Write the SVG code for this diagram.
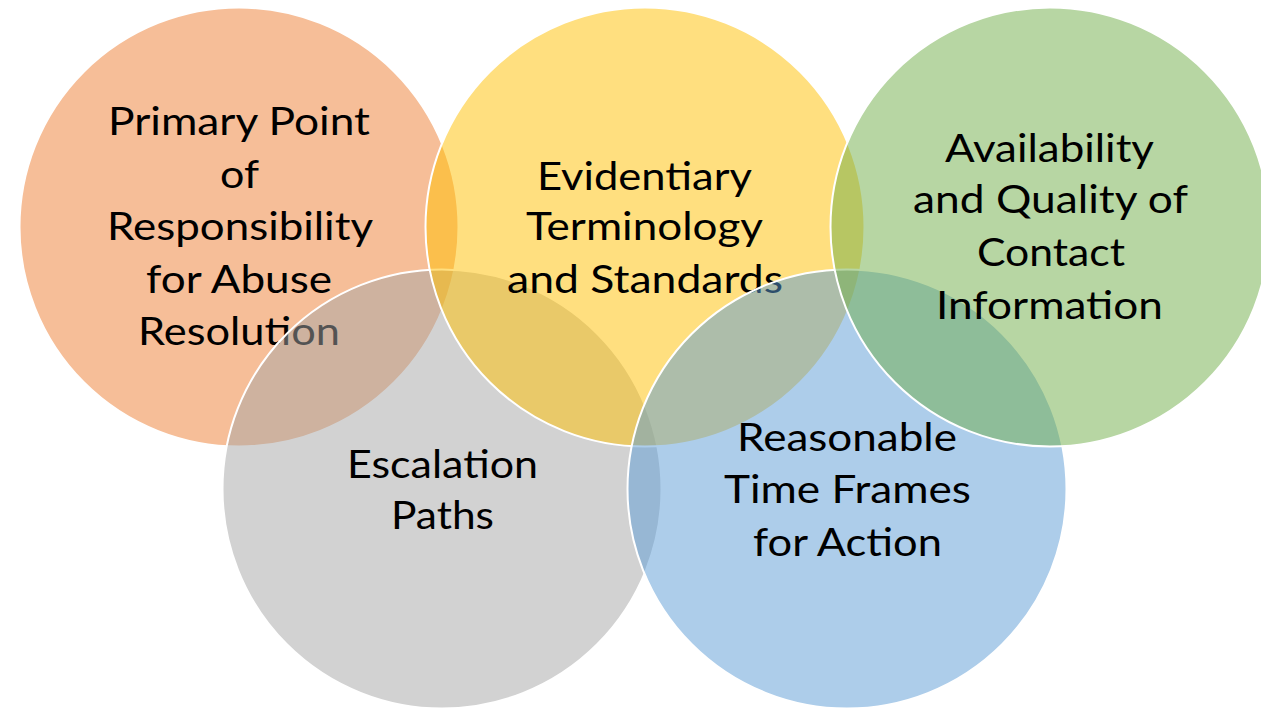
<svg xmlns="http://www.w3.org/2000/svg" width="1261" height="709" viewBox="0 0 1261 709">
<style>
.c{stroke:#FFFFFF;stroke-width:2;fill-opacity:0.5}
.t{font-family:Lato,"Noto Sans","Liberation Sans",sans-serif;font-size:39px;fill:#000000}
</style>
<rect width="1261" height="709" fill="#FFFFFF"/>
<g id="node-primary">
<circle class="c" cx="239" cy="227" r="219.5" fill="#ED7D31"/>
<text class="t" x="108" y="135" textLength="262" lengthAdjust="spacingAndGlyphs">Primary Point</text>
<text class="t" x="220" y="188" textLength="39" lengthAdjust="spacingAndGlyphs">of</text>
<text class="t" x="107" y="240" textLength="266" lengthAdjust="spacingAndGlyphs">Responsibility</text>
<text class="t" x="146" y="293" textLength="186" lengthAdjust="spacingAndGlyphs">for Abuse</text>
<text class="t" x="138" y="345" textLength="202" lengthAdjust="spacingAndGlyphs">Resolution</text>
</g>
<g id="node-escalation">
<circle class="c" cx="442" cy="489" r="219.5" fill="#A5A5A5"/>
<text class="t" x="347" y="478" textLength="191" lengthAdjust="spacingAndGlyphs">Escalation</text>
<text class="t" x="391" y="529" textLength="103" lengthAdjust="spacingAndGlyphs">Paths</text>
</g>
<g id="node-evidentiary">
<circle class="c" cx="645" cy="227" r="219.5" fill="#FFC000"/>
<text class="t" x="537" y="190" textLength="215" lengthAdjust="spacingAndGlyphs">Evidentiary</text>
<text class="t" x="526" y="240" textLength="237" lengthAdjust="spacingAndGlyphs">Terminology</text>
<text class="t" x="507" y="293" textLength="276" lengthAdjust="spacingAndGlyphs">and Standards</text>
</g>
<g id="node-timeframes">
<circle class="c" cx="847" cy="489" r="219.5" fill="#5B9BD5"/>
<text class="t" x="737" y="451" textLength="220" lengthAdjust="spacingAndGlyphs">Reasonable</text>
<text class="t" x="724" y="503" textLength="247" lengthAdjust="spacingAndGlyphs">Time Frames</text>
<text class="t" x="753" y="556" textLength="189" lengthAdjust="spacingAndGlyphs">for Action</text>
</g>
<g id="node-availability">
<circle class="c" cx="1050" cy="227" r="219.5" fill="#70AD47"/>
<text class="t" x="945" y="162" textLength="209" lengthAdjust="spacingAndGlyphs">Availability</text>
<text class="t" x="913" y="213" textLength="275" lengthAdjust="spacingAndGlyphs">and Quality of</text>
<text class="t" x="977" y="266" textLength="148" lengthAdjust="spacingAndGlyphs">Contact</text>
<text class="t" x="936" y="319" textLength="227" lengthAdjust="spacingAndGlyphs">Information</text>
</g>
<g id="connectors"></g>
</svg>
